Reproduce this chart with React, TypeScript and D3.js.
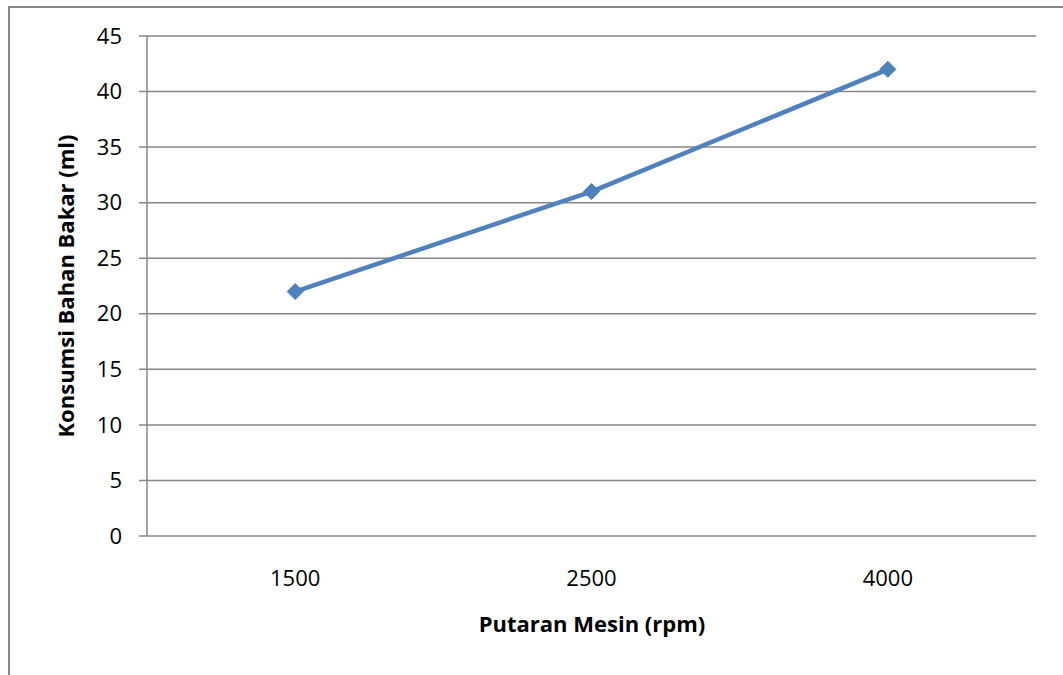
import React from "react";
import * as d3 from "d3";

const categories = ["1500", "2500", "4000"];
const values = [22, 31, 42];
const yTicks = [0, 5, 10, 15, 20, 25, 30, 35, 40, 45];
const xTitle = "Putaran Mesin (rpm)";
const yTitle = "Konsumsi Bahan Bakar (ml)";

export default function App() {
  const W = 1063, H = 675;
  const left = 147, right = 1036, top = 36, bottom = 536;
  const x = d3.scaleBand<string>().domain(categories).range([left, right]);
  const y = d3.scaleLinear().domain([0, 45]).range([bottom, top]);
  const cx = (c: string) => (x(c) as number) + x.bandwidth() / 2;
  const line = d3.line<number>().x((_, i) => cx(categories[i])).y((v) => y(v));
  const font = "'Open Sans', 'Liberation Sans', sans-serif";
  const grid = "#868686";
  const ms = 8;
  const fs = 22;
  return (
    <svg width={W} height={H} style={{ position: "absolute", left: 0, top: 0, background: "#fff" }}>
      <rect x={9} y={7} width={W + 10} height={H + 10} fill="#fff" stroke="#888" strokeWidth={2} />
      {yTicks.map((t) => (
        <g key={t}>
          <line x1={139} x2={right} y1={y(t)} y2={y(t)} stroke={grid} strokeWidth={1.5} />
          <text x={122} y={y(t)} dy="0.35em" textAnchor="end" fontFamily={font} fontSize={fs} fill="#000">
            {t}
          </text>
        </g>
      ))}
      <line x1={left} x2={left} y1={top} y2={bottom} stroke={grid} strokeWidth={1.5} />
      {categories.map((c) => (
        <text key={c} x={cx(c)} y={578} dy="0.35em" textAnchor="middle" fontFamily={font} fontSize={fs} fill="#000">
          {c}
        </text>
      ))}
      <path d={line(values) || ""} fill="none" stroke="#4F81BD" strokeWidth={4.5} strokeLinejoin="round" />
      {values.map((v, i) => (
        <path
          key={i}
          d={`M${cx(categories[i])},${y(v) - ms}L${cx(categories[i]) + ms},${y(v)}L${cx(categories[i])},${y(v) + ms}L${cx(categories[i]) - ms},${y(v)}Z`}
          fill="#4F81BD"
          stroke="#4A7EBB"
          strokeWidth={1}
        />
      ))}
      <text x={592} y={632} textAnchor="middle" fontFamily={font} fontSize={fs} fontWeight="bold" fill="#000">
        {xTitle}
      </text>
      <text
        transform={`translate(74,286) rotate(-90)`}
        textAnchor="middle"
        fontFamily={font}
        fontSize={fs}
        fontWeight="bold"
        fill="#000"
      >
        {yTitle}
      </text>
    </svg>
  );
}
